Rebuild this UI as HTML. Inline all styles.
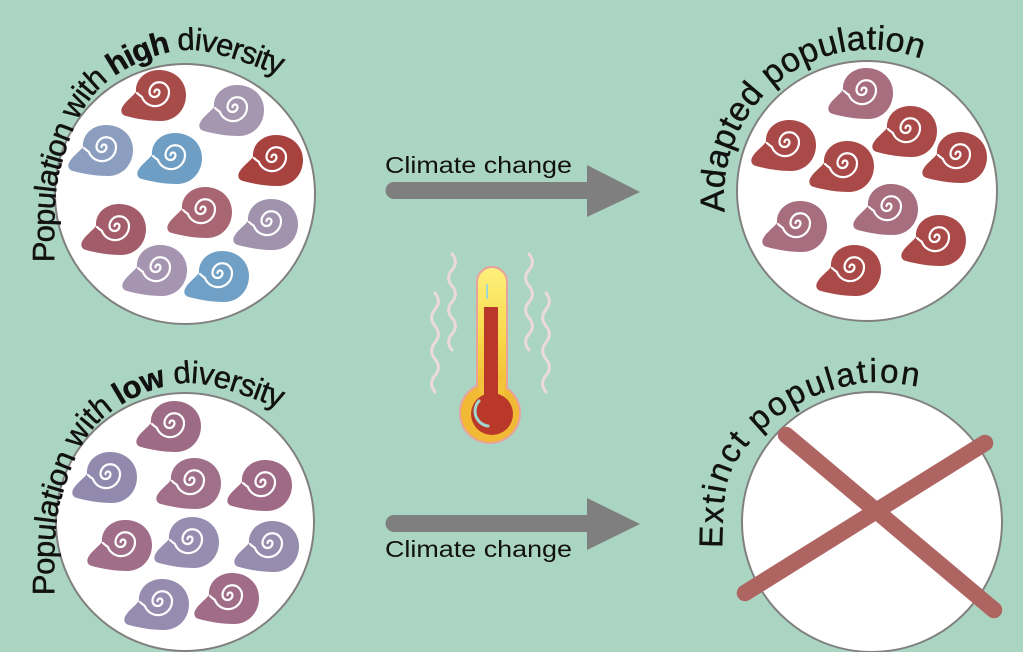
<!DOCTYPE html>
<html>
<head>
<meta charset="utf-8">
<style>
html,body{margin:0;padding:0;background:#abd5c3;}
svg{display:block;}
text{font-family:"Liberation Sans",sans-serif;fill:#111;}
.lbl{stroke:#111;stroke-width:0.45px;}
</style>
</head>
<body>
<svg width="1023" height="652" viewBox="0 0 1023 652" xmlns="http://www.w3.org/2000/svg">
<defs>
  <g id="sn">
    <path d="M-21,0 C-22,-12 -12,-22 2,-22 C18,-22 29,-11 29,3 C29,18 18,29 4,29 C-8,29 -20,27 -31,24 C-36,23 -37,18 -34,14 C-31,9 -25,5 -21,0 Z"/>
    <path d="M-2.5,0 A2.5,2.5 0 0 1 2.5,0 A5,5 0 0 1 -7.5,0 A9.75,9.75 0 0 1 12,0 A14,14 0 0 1 -15.2,4.8 Q-18,3 -20,1" fill="none" stroke="#fff" stroke-width="2.2" stroke-linecap="round"/>
  </g>
  <path id="pTL" d="M54,262 C55,247 52,199 60,170 C68,141 79,108 100,88 C121,68 155,52 185,50 C216,48 267,72 283,76"/>
  <path id="pBL" d="M54,595 C55,580 52,532 60,503 C68,474 79,441 100,421 C121,401 155,385 185,383 C216,381 267,405 283,409"/>
  <path id="pTR" d="M725,212 A146,146 0 0,1 922,59"/>
  <path id="pBR" d="M722,548 C723,537 722,499 728,480 C734,461 746,446 760,432 C774,418 792,406 810,398 C828,390 851,384 870,382 C889,381 913,386 922,387"/>
  <linearGradient id="yel" x1="0" y1="0" x2="0" y2="1">
    <stop offset="0" stop-color="#fdf07c"/>
    <stop offset="0.5" stop-color="#f8d94a"/>
    <stop offset="1" stop-color="#f0b02c"/>
  </linearGradient>
</defs>

<rect x="0" y="0" width="1023" height="652" fill="#abd5c3"/>

<!-- circles -->
<circle cx="185" cy="194" r="130" fill="#fff" stroke="#808080" stroke-width="2"/>
<circle cx="867" cy="191" r="130" fill="#fff" stroke="#808080" stroke-width="2"/>
<circle cx="185" cy="522" r="129" fill="#fff" stroke="#808080" stroke-width="2"/>
<circle cx="872" cy="522" r="130" fill="#fff" stroke="#808080" stroke-width="2"/>

<!-- top-left snails -->
<use href="#sn" x="157" y="92" fill="#a84c4a"/>
<use href="#sn" x="235" y="107" fill="#a697b0"/>
<use href="#sn" x="104" y="147" fill="#8c9ec0"/>
<use href="#sn" x="173" y="155" fill="#6e9ec4"/>
<use href="#sn" x="274" y="157" fill="#a8423f"/>
<use href="#sn" x="117" y="226" fill="#a35c69"/>
<use href="#sn" x="203" y="209" fill="#a86572"/>
<use href="#sn" x="269" y="221" fill="#a193ae"/>
<use href="#sn" x="158" y="267" fill="#a595b1"/>
<use href="#sn" x="220" y="273" fill="#70a0c5"/>

<!-- top-right snails -->
<use href="#sn" x="864" y="90" fill="#a66e7e"/>
<use href="#sn" x="787" y="142" fill="#aa4a48"/>
<use href="#sn" x="908" y="128" fill="#aa4a48"/>
<use href="#sn" x="845" y="163" fill="#aa4a48"/>
<use href="#sn" x="958" y="154" fill="#aa4a48"/>
<use href="#sn" x="798" y="223" fill="#a66e7e"/>
<use href="#sn" x="889" y="206" fill="#a66e7e"/>
<use href="#sn" x="937" y="237" fill="#aa4a48"/>
<use href="#sn" x="852" y="267" fill="#aa4a48"/>

<!-- bottom-left snails -->
<use href="#sn" x="172" y="423" fill="#9e6b86"/>
<use href="#sn" x="108" y="474" fill="#918aae"/>
<use href="#sn" x="192" y="480" fill="#a0708b"/>
<use href="#sn" x="263" y="482" fill="#9e6a86"/>
<use href="#sn" x="123" y="542" fill="#a06e88"/>
<use href="#sn" x="190" y="539" fill="#978db0"/>
<use href="#sn" x="270" y="543" fill="#968cae"/>
<use href="#sn" x="160" y="601" fill="#958cb0"/>
<use href="#sn" x="230" y="595" fill="#a06c88"/>

<!-- cross -->
<line x1="786" y1="435" x2="994" y2="610" stroke="#ae6461" stroke-width="16.5" stroke-linecap="round"/>
<line x1="985" y1="443" x2="745" y2="593" stroke="#ae6461" stroke-width="16.5" stroke-linecap="round"/>

<!-- curved labels -->
<text class="lbl" font-size="31"><textPath href="#pTL" textLength="378" lengthAdjust="spacing">Population with <tspan font-weight="bold">high</tspan> diversity</textPath></text>
<text class="lbl" font-size="31"><textPath href="#pBL" textLength="378" lengthAdjust="spacing">Population with <tspan font-weight="bold">low</tspan> diversity</textPath></text>
<text class="lbl" font-size="34"><textPath href="#pTR" textLength="298" lengthAdjust="spacing">Adapted population</textPath></text>
<text class="lbl" font-size="33"><textPath href="#pBR" textLength="298" lengthAdjust="spacing">Extinct population</textPath></text>

<!-- arrows -->
<line x1="394" y1="190.5" x2="592" y2="190.5" stroke="#7f7f7f" stroke-width="17" stroke-linecap="round"/>
<polygon points="587,165 640,192 587,217" fill="#7f7f7f"/>
<line x1="394" y1="523.5" x2="592" y2="523.5" stroke="#7f7f7f" stroke-width="17" stroke-linecap="round"/>
<polygon points="587,498 640,524 587,550" fill="#7f7f7f"/>

<text x="385" y="173" font-size="23" textLength="187" lengthAdjust="spacingAndGlyphs">Climate change</text>
<text x="385" y="557" font-size="23" textLength="187" lengthAdjust="spacingAndGlyphs">Climate change</text>

<!-- heat waves -->
<g fill="none" stroke="#ecdada" stroke-width="3" stroke-linecap="round">
  <path d="M435,293 c4.5,5.5 4.5,11 0,16.5 c-4.5,5.5 -4.5,11 0,16.5 c4.5,5.5 4.5,11 0,16.5 c-4.5,5.5 -4.5,11 0,16.5 c4.5,5.5 4.5,11 0,16.5 c-4.5,5.5 -4.5,11 0,16.5"/>
  <path d="M452,254 c4.5,5.3 4.5,10.7 0,16 c-4.5,5.3 -4.5,10.7 0,16 c4.5,5.3 4.5,10.7 0,16 c-4.5,5.3 -4.5,10.7 0,16 c4.5,5.3 4.5,10.7 0,16 c-4.5,5.3 -4.5,10.7 0,16"/>
  <path d="M529,254 c4.5,5.3 4.5,10.7 0,16 c-4.5,5.3 -4.5,10.7 0,16 c4.5,5.3 4.5,10.7 0,16 c-4.5,5.3 -4.5,10.7 0,16 c4.5,5.3 4.5,10.7 0,16 c-4.5,5.3 -4.5,10.7 0,16"/>
  <path d="M546,293 c4.5,5.5 4.5,11 0,16.5 c-4.5,5.5 -4.5,11 0,16.5 c4.5,5.5 4.5,11 0,16.5 c-4.5,5.5 -4.5,11 0,16.5 c4.5,5.5 4.5,11 0,16.5 c-4.5,5.5 -4.5,11 0,16.5"/>
</g>

<!-- thermometer -->
<g>
  <rect x="478" y="268" width="28" height="140" rx="14" fill="#e8a29c" stroke="#e8a29c" stroke-width="4"/>
  <circle cx="490" cy="413" r="29" fill="#e8a29c" stroke="#e8a29c" stroke-width="4"/>
  <rect x="478" y="268" width="28" height="140" rx="14" fill="url(#yel)"/>
  <circle cx="490" cy="413" r="29" fill="#f2b934"/>
  <rect x="479.5" y="380" width="25" height="20" fill="#f4c43c"/>
  <rect x="484" y="307" width="14" height="100" fill="#b9382a"/>
  <circle cx="492" cy="414" r="21" fill="#b9382a"/>
  <line x1="487" y1="284" x2="487" y2="299" stroke="#9fd8d0" stroke-width="2"/>
  <path d="M479,401 A15,15 0 0 0 488,426" fill="none" stroke="#9ed6d0" stroke-width="3" stroke-linecap="round"/>
</g>
</svg>
</body>
</html>
